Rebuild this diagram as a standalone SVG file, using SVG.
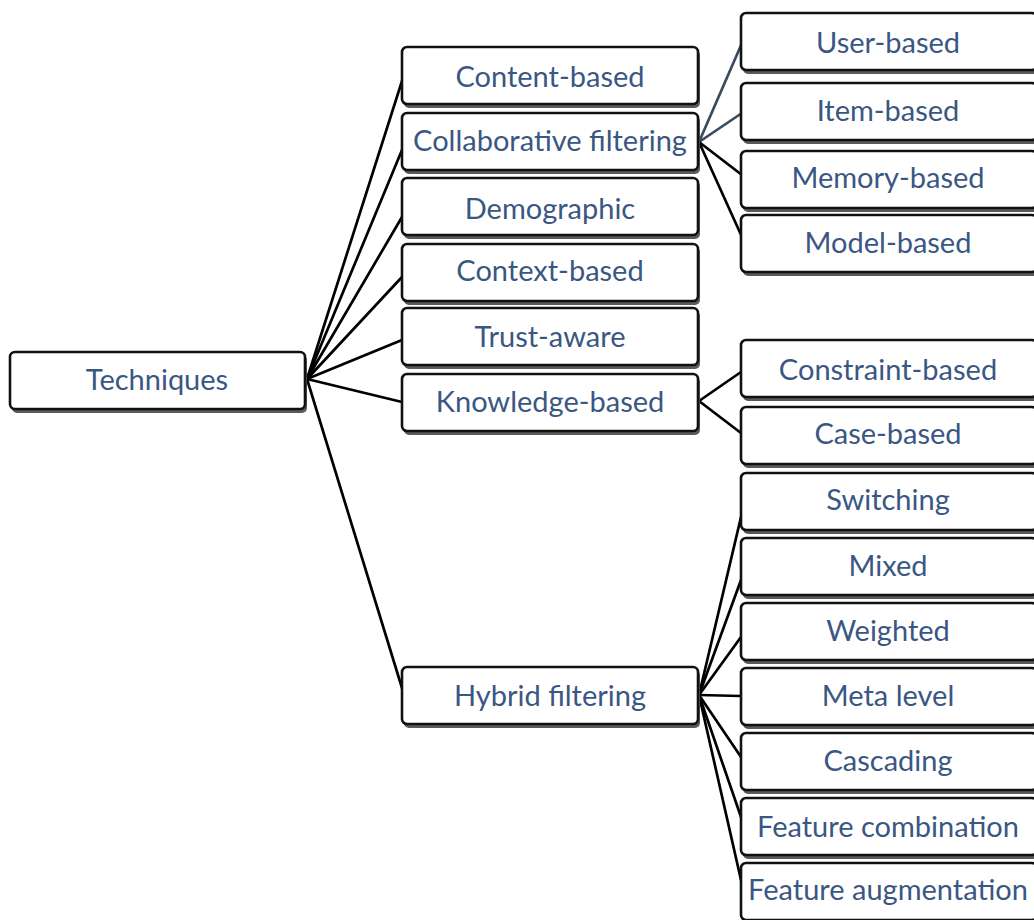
<svg xmlns="http://www.w3.org/2000/svg" width="1034" height="920" viewBox="0 0 1034 920">
  <style>
    .sh { fill: #5a5a5a; }
    .bx { fill: #ffffff; stroke: #111111; stroke-width: 2.6; }
    .lb { font-family: Lato, "Open Sans", sans-serif; font-size: 29px; fill: #3a5783; text-anchor: middle; }
    .ln { stroke: #000000; stroke-width: 2.7; fill: none; stroke-linecap: round; }
    .ln2 { stroke: #3a4a60; stroke-width: 2.7; fill: none; stroke-linecap: round; }
  </style>
  <defs>
    <!-- box: shadow rect offset down-right, then white rounded rect -->
    <symbol id="boxL" overflow="visible">
      <rect class="sh" x="2" y="3" width="296" height="58" rx="5"/>
      <rect class="bx" x="0" y="0" width="296" height="57" rx="5"/>
    </symbol>
  </defs>

  <rect width="1034" height="920" fill="#ffffff"/>

  <!-- connectors -->
  <g id="connectors">
    <line class="ln" x1="307" y1="379" x2="402" y2="81"/>
    <line class="ln" x1="307" y1="379" x2="402" y2="150"/>
    <line class="ln" x1="307" y1="379" x2="402" y2="217"/>
    <line class="ln" x1="307" y1="379" x2="402" y2="277"/>
    <line class="ln" x1="307" y1="379" x2="402" y2="340"/>
    <line class="ln" x1="307" y1="379" x2="402" y2="402"/>
    <line class="ln" x1="307" y1="379" x2="402" y2="688"/>

    <line class="ln2" x1="699" y1="142" x2="742" y2="43"/>
    <line class="ln2" x1="699" y1="142" x2="742" y2="113"/>
    <line class="ln" x1="699" y1="142" x2="742" y2="175"/>
    <line class="ln" x1="699" y1="142" x2="742" y2="237"/>

    <line class="ln" x1="699" y1="401" x2="741" y2="372"/>
    <line class="ln" x1="699" y1="401" x2="741" y2="433"/>

    <line class="ln" x1="699" y1="695" x2="741" y2="517"/>
    <line class="ln" x1="699" y1="695" x2="741" y2="580"/>
    <line class="ln" x1="699" y1="695" x2="741" y2="637"/>
    <line class="ln" x1="699" y1="695" x2="741" y2="696"/>
    <line class="ln" x1="699" y1="695" x2="741" y2="757"/>
    <line class="ln" x1="699" y1="695" x2="741" y2="817"/>
    <line class="ln" x1="699" y1="695" x2="741" y2="880"/>
  </g>

  <!-- root -->
  <g id="techniques">
    <rect class="sh" x="12" y="355" width="295" height="58" rx="5"/>
    <rect class="bx" x="10" y="352" width="295" height="57" rx="5"/>
    <text class="lb" x="157" y="390">Techniques</text>
  </g>

  <!-- first level -->
  <g id="content-based">
    <use href="#boxL" x="402" y="47"/>
    <text class="lb" x="550" y="87">Content-based</text>
  </g>
  <g id="collaborative-filtering">
    <use href="#boxL" x="402" y="113"/>
    <text class="lb" x="550" y="151">Collaborative filtering</text>
  </g>
  <g id="demographic">
    <use href="#boxL" x="402" y="178"/>
    <text class="lb" x="550" y="219">Demographic</text>
  </g>
  <g id="context-based">
    <use href="#boxL" x="402" y="244"/>
    <text class="lb" x="550" y="281">Context-based</text>
  </g>
  <g id="trust-aware">
    <use href="#boxL" x="402" y="308"/>
    <text class="lb" x="550" y="347">Trust-aware</text>
  </g>
  <g id="knowledge-based">
    <use href="#boxL" x="402" y="374"/>
    <text class="lb" x="550" y="412">Knowledge-based</text>
  </g>
  <g id="hybrid-filtering">
    <use href="#boxL" x="402" y="667"/>
    <text class="lb" x="550" y="706">Hybrid filtering</text>
  </g>

  <!-- second level -->
  <g id="user-based">
    <use href="#boxL" x="741" y="13"/>
    <text class="lb" x="888" y="53">User-based</text>
  </g>
  <g id="item-based">
    <use href="#boxL" x="741" y="83"/>
    <text class="lb" x="888" y="121">Item-based</text>
  </g>
  <g id="memory-based">
    <use href="#boxL" x="741" y="151"/>
    <text class="lb" x="888" y="188">Memory-based</text>
  </g>
  <g id="model-based">
    <use href="#boxL" x="741" y="215"/>
    <text class="lb" x="888" y="253">Model-based</text>
  </g>
  <g id="constraint-based">
    <use href="#boxL" x="741" y="340"/>
    <text class="lb" x="888" y="380">Constraint-based</text>
  </g>
  <g id="case-based">
    <use href="#boxL" x="741" y="407"/>
    <text class="lb" x="888" y="444">Case-based</text>
  </g>
  <g id="switching">
    <use href="#boxL" x="741" y="473"/>
    <text class="lb" x="888" y="510">Switching</text>
  </g>
  <g id="mixed">
    <use href="#boxL" x="741" y="538"/>
    <text class="lb" x="888" y="576">Mixed</text>
  </g>
  <g id="weighted">
    <use href="#boxL" x="741" y="603"/>
    <text class="lb" x="888" y="641">Weighted</text>
  </g>
  <g id="meta-level">
    <use href="#boxL" x="741" y="668"/>
    <text class="lb" x="888" y="706">Meta level</text>
  </g>
  <g id="cascading">
    <use href="#boxL" x="741" y="733"/>
    <text class="lb" x="888" y="771">Cascading</text>
  </g>
  <g id="feature-combination">
    <use href="#boxL" x="741" y="798"/>
    <text class="lb" x="888" y="837">Feature combination</text>
  </g>
  <g id="feature-augmentation">
    <use href="#boxL" x="741" y="863"/>
    <text class="lb" x="888" y="900">Feature augmentation</text>
  </g>
</svg>
